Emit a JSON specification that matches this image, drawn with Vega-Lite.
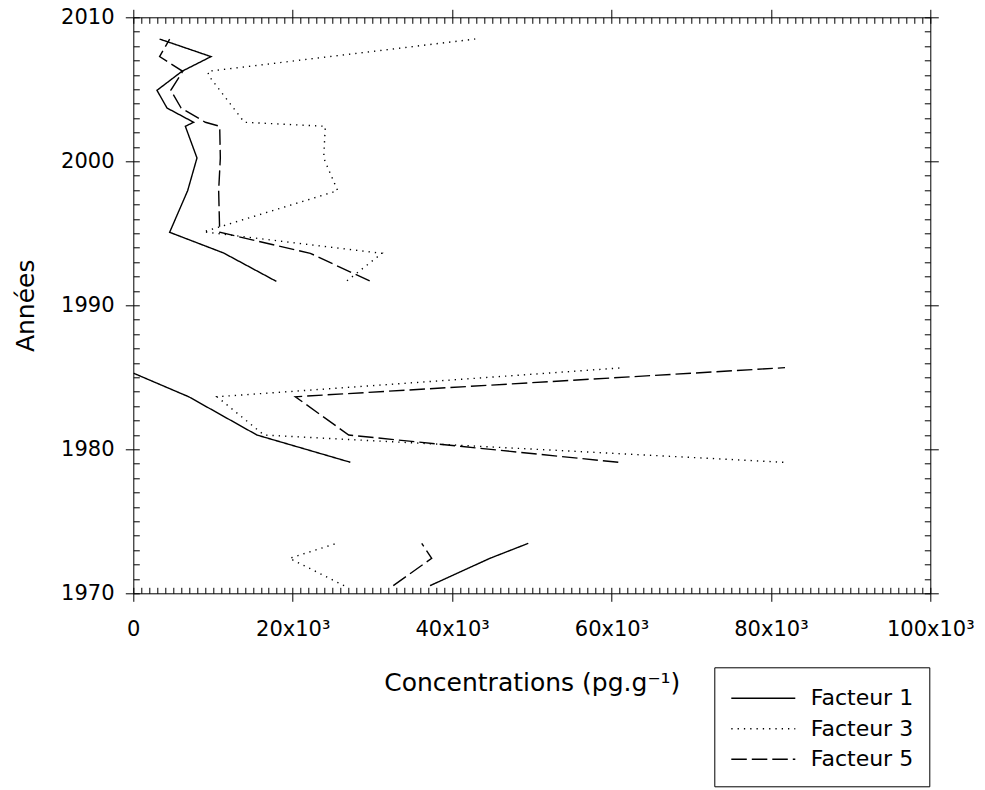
{
  "$schema": "https://vega.github.io/schema/vega-lite/v6.json",
  "width": 797,
  "height": 576,
  "autosize": {"type": "none"},
  "padding": {"left": 133.3, "top": 17.3, "right": 54.7, "bottom": 196.7},
  "background": "white",
  "config": {
    "font": "DejaVu Sans",
    "view": {"stroke": null},
    "axis": {"domainColor": "black", "tickColor": "black", "labelColor": "black", "titleColor": "black", "grid": false, "tickWidth": 1, "domainWidth": 1, "titleFontWeight": "normal"}
  },
  "data": {
    "values": [
      {"factor": "Facteur 1", "seg": "A", "year": 2008.49, "conc": 3300},
      {"factor": "Facteur 1", "seg": "A", "year": 2007.27, "conc": 9750},
      {"factor": "Facteur 1", "seg": "A", "year": 2006.25, "conc": 6110},
      {"factor": "Facteur 1", "seg": "A", "year": 2004.93, "conc": 2970},
      {"factor": "Facteur 1", "seg": "A", "year": 2003.70, "conc": 4230},
      {"factor": "Facteur 1", "seg": "A", "year": 2002.71, "conc": 7570},
      {"factor": "Facteur 1", "seg": "A", "year": 2002.43, "conc": 6530},
      {"factor": "Facteur 1", "seg": "A", "year": 2000.23, "conc": 7990},
      {"factor": "Facteur 1", "seg": "A", "year": 1997.96, "conc": 6820},
      {"factor": "Facteur 1", "seg": "A", "year": 1995.07, "conc": 4560},
      {"factor": "Facteur 1", "seg": "A", "year": 1993.63, "conc": 11340},
      {"factor": "Facteur 1", "seg": "A", "year": 1991.66, "conc": 17950},
      {"factor": "Facteur 1", "seg": "B", "year": 1985.28, "conc": 50},
      {"factor": "Facteur 1", "seg": "B", "year": 1983.65, "conc": 6950},
      {"factor": "Facteur 1", "seg": "B", "year": 1980.99, "conc": 15520},
      {"factor": "Facteur 1", "seg": "B", "year": 1979.10, "conc": 27230},
      {"factor": "Facteur 1", "seg": "C", "year": 1973.47, "conc": 49560},
      {"factor": "Facteur 1", "seg": "C", "year": 1972.43, "conc": 44750},
      {"factor": "Facteur 1", "seg": "C", "year": 1970.53, "conc": 37230},
      {"factor": "Facteur 3", "seg": "A", "year": 2008.49, "conc": 42900},
      {"factor": "Facteur 3", "seg": "A", "year": 2006.25, "conc": 9370},
      {"factor": "Facteur 3", "seg": "A", "year": 2005.95, "conc": 9450},
      {"factor": "Facteur 3", "seg": "A", "year": 2002.71, "conc": 13930},
      {"factor": "Facteur 3", "seg": "A", "year": 2002.43, "conc": 24090},
      {"factor": "Facteur 3", "seg": "A", "year": 2000.23, "conc": 23890},
      {"factor": "Facteur 3", "seg": "A", "year": 1997.96, "conc": 25640},
      {"factor": "Facteur 3", "seg": "A", "year": 1995.10, "conc": 8800},
      {"factor": "Facteur 3", "seg": "A", "year": 1993.61, "conc": 31200},
      {"factor": "Facteur 3", "seg": "A", "year": 1991.70, "conc": 26810},
      {"factor": "Facteur 3", "seg": "B", "year": 1985.67, "conc": 61600},
      {"factor": "Facteur 3", "seg": "B", "year": 1983.65, "conc": 10500},
      {"factor": "Facteur 3", "seg": "B", "year": 1980.99, "conc": 16400},
      {"factor": "Facteur 3", "seg": "B", "year": 1979.10, "conc": 81560},
      {"factor": "Facteur 3", "seg": "C", "year": 1973.47, "conc": 25520},
      {"factor": "Facteur 3", "seg": "C", "year": 1972.43, "conc": 19600},
      {"factor": "Facteur 3", "seg": "C", "year": 1970.53, "conc": 26450},
      {"factor": "Facteur 5", "seg": "A", "year": 2008.49, "conc": 4560},
      {"factor": "Facteur 5", "seg": "A", "year": 2007.27, "conc": 3300},
      {"factor": "Facteur 5", "seg": "A", "year": 2006.25, "conc": 6200},
      {"factor": "Facteur 5", "seg": "A", "year": 2004.93, "conc": 4700},
      {"factor": "Facteur 5", "seg": "A", "year": 2003.70, "conc": 6000},
      {"factor": "Facteur 5", "seg": "A", "year": 2002.71, "conc": 9040},
      {"factor": "Facteur 5", "seg": "A", "year": 2002.43, "conc": 10840},
      {"factor": "Facteur 5", "seg": "A", "year": 2000.23, "conc": 10920},
      {"factor": "Facteur 5", "seg": "A", "year": 1997.96, "conc": 10710},
      {"factor": "Facteur 5", "seg": "A", "year": 1995.07, "conc": 10840},
      {"factor": "Facteur 5", "seg": "A", "year": 1993.61, "conc": 22210},
      {"factor": "Facteur 5", "seg": "A", "year": 1991.69, "conc": 29660},
      {"factor": "Facteur 5", "seg": "B", "year": 1985.67, "conc": 81770},
      {"factor": "Facteur 5", "seg": "B", "year": 1983.65, "conc": 20330},
      {"factor": "Facteur 5", "seg": "B", "year": 1980.99, "conc": 27030},
      {"factor": "Facteur 5", "seg": "B", "year": 1979.10, "conc": 60850},
      {"factor": "Facteur 5", "seg": "C", "year": 1973.47, "conc": 36190},
      {"factor": "Facteur 5", "seg": "C", "year": 1972.43, "conc": 37440},
      {"factor": "Facteur 5", "seg": "C", "year": 1970.53, "conc": 32620}
    ]
  },
  "resolve": {"axis": {"x": "independent", "y": "independent"}},
  "layer": [
    {
      "mark": {"type": "line", "color": "black", "strokeWidth": 1.4},
      "encoding": {
        "x": {"field": "conc", "type": "quantitative", "scale": {"domain": [0, 100000], "nice": false},
          "axis": {"orient": "bottom", "values": [0, 20000, 40000, 60000, 80000, 100000], "tickSize": 8, "labelPadding": 17, "labelFontSize": 21, "labelFlush": false, "labelOverlap": false,
            "labelExpr": "datum.value === 0 ? '0' : (datum.value / 1000) + 'x10³'",
            "title": "Concentrations (pg.g⁻¹)", "titleFontSize": 25, "titleBaseline": "alphabetic", "titleY": 96.7}},
        "y": {"field": "year", "type": "quantitative", "scale": {"domain": [1970, 2010], "nice": false, "zero": false},
          "axis": {"orient": "left", "values": [1970, 1980, 1990, 2000, 2010], "tickSize": 8, "labelPadding": 11.3, "labelFontSize": 21, "labelFlush": false, "labelOverlap": false, "format": "d",
            "title": "Années", "titleFontSize": 25, "titleBaseline": "alphabetic", "titleX": -100, "titleAngle": -90}},
        "strokeDash": {"field": "factor", "type": "nominal",
          "scale": {"domain": ["Facteur 1", "Facteur 3", "Facteur 5"], "range": [[1, 0], [1.3, 5], [15.5, 5]]},
          "legend": {"orient": "none", "legendX": 581, "legendY": 650, "title": null, "strokeColor": "black", "padding": 16, "labelFontSize": 22, "labelColor": "black", "symbolSize": 784, "symbolStrokeWidth": 1.5, "symbolStrokeColor": "black", "symbolType": "M-1,0H3.571", "rowPadding": 4.5, "labelOffset": 50.5}},
        "detail": {"field": "seg"},
        "order": {"field": "year", "type": "quantitative"}
      }
    },
    {
      "mark": {"type": "point", "opacity": 0},
      "encoding": {
        "x": {"field": "conc", "type": "quantitative", "axis": {"orient": "bottom", "tickCount": 100, "tickSize": -6, "labels": false, "domain": false, "title": null}},
        "y": {"field": "year", "type": "quantitative", "axis": {"orient": "left", "tickCount": 40, "tickSize": -6, "labels": false, "domain": false, "title": null}}
      }
    },
    {
      "mark": {"type": "point", "opacity": 0},
      "encoding": {
        "x": {"field": "conc", "type": "quantitative", "axis": {"orient": "top", "values": [0, 20000, 40000, 60000, 80000, 100000], "tickSize": 8, "labels": false, "domain": true, "title": null}},
        "y": {"field": "year", "type": "quantitative", "axis": {"orient": "right", "values": [1970, 1980, 1990, 2000, 2010], "tickSize": 8, "labels": false, "domain": true, "title": null}}
      }
    },
    {
      "mark": {"type": "point", "opacity": 0},
      "encoding": {
        "x": {"field": "conc", "type": "quantitative", "axis": {"orient": "top", "tickCount": 100, "tickSize": -6, "labels": false, "domain": false, "title": null}},
        "y": {"field": "year", "type": "quantitative", "axis": {"orient": "right", "tickCount": 40, "tickSize": -6, "labels": false, "domain": false, "title": null}}
      }
    }
  ]
}
